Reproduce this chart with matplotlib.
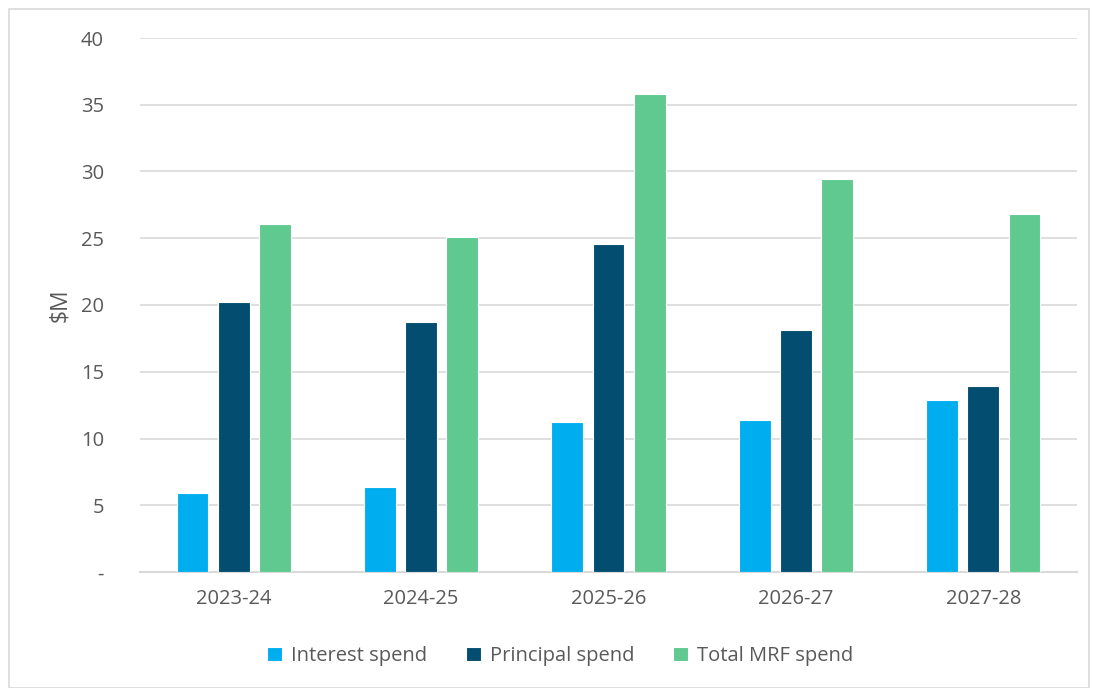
import matplotlib
matplotlib.use("Agg")
import matplotlib.pyplot as plt
import numpy as np
from matplotlib.patches import Rectangle

categories = ["2023-24", "2024-25", "2025-26", "2026-27", "2027-28"]
interest = [5.9, 6.4, 11.25, 11.4, 12.9]
principal = [20.2, 18.7, 24.55, 18.1, 13.9]
total = [26.05, 25.1, 35.8, 29.45, 26.85]
series_names = ["Interest spend", "Principal spend", "Total MRF spend"]
colors = ["#00AEEF", "#024D70", "#5FC98F"]
yticks = [0, 5, 10, 15, 20, 25, 30, 35, 40]
ytick_labels = ["-", "5", "10", "15", "20", "25", "30", "35", "40"]

plt.rcParams['font.family'] = ['Open Sans', 'DejaVu Sans']
text_color = "#595959"

fig = plt.figure(figsize=(10.93, 6.88), dpi=100)
ax = fig.add_axes([140/1093, 1-572/688, 937/1093, 534/688])

x = np.arange(len(categories))
width = 0.17
pitch = 0.22
for i, (vals, name, c) in enumerate(zip([interest, principal, total], series_names, colors)):
    ax.bar(x + (i-1)*pitch, vals, width, color=c, label=name, edgecolor="white", linewidth=0.8, zorder=3)

ax.set_xlim(-0.5, len(categories)-0.5)
ax.set_ylim(0, 40)
ax.set_yticks(yticks)
ax.set_yticklabels(ytick_labels)
ax.set_xticks(x)
ax.set_xticklabels(categories)
ax.tick_params(axis='both', length=0, colors=text_color, labelsize=14.5)
ax.tick_params(axis='y', pad=26)
ax.tick_params(axis='x', pad=12)
ax.grid(axis='y', color="#D9D9D9", linewidth=1.2, zorder=0)
for s in ["top", "right", "left"]:
    ax.spines[s].set_visible(False)
ax.spines["bottom"].set_color("#D9D9D9")
ax.spines["bottom"].set_linewidth(1.5)
ax.set_ylabel("$M", color=text_color, fontsize=16.5, labelpad=6)

leg = fig.legend(loc="center", bbox_to_anchor=(560/1093, 1-656/688), ncol=3, frameon=False,
                 fontsize=14.5, handlelength=0.75, handleheight=0.75, handletextpad=0.45, columnspacing=1.9)
for t in leg.get_texts():
    t.set_color(text_color)

fig.patches.append(Rectangle((9/1093, 0.0), 1080/1093, 1-9/688, transform=fig.transFigure,
                             fill=False, edgecolor="#D9D9D9", linewidth=1.2))

fig.savefig("out.png", dpi=100)
